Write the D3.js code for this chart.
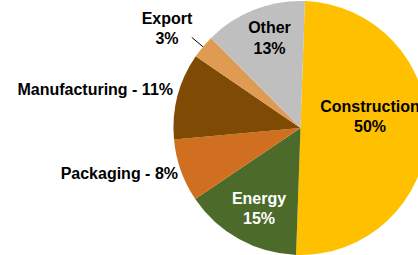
<!DOCTYPE html>
<html>
<head>
<meta charset="utf-8">
<script src="https://cdn.jsdelivr.net/npm/d3@7"></script>
<style>
  body { margin: 0; background: #fff; }
  svg text { font-family: "Liberation Sans", Arial, sans-serif; font-weight: bold; }
</style>
</head>
<body>
<div id="chart"></div>
<script>
// data, clockwise from 12 o'clock
const categories = ["Construction", "Energy", "Packaging", "Manufacturing", "Export", "Other"];
const shares = [50, 15, 8, 11, 3, 13];
const colors = ["#FFC000", "#4C6B2B", "#CF6F1F", "#7F4A03", "#E09B52", "#BFBFBF"];

// label layout (Excel placed these by hand)
const labelLayout = {
  Construction:  { x: 370, y: 111.7, anchor: "middle", fill: "#000", inline: false },
  Energy:        { x: 259, y: 204,   anchor: "middle", fill: "#fff", inline: false },
  Packaging:     { x: 178, y: 179,   anchor: "end",    fill: "#000", inline: true },
  Manufacturing: { x: 173, y: 95,    anchor: "end",    fill: "#000", inline: true },
  Export:        { x: 167, y: 24,    anchor: "middle", fill: "#000", inline: false },
  Other:         { x: 269.5, y: 33.3, anchor: "middle", fill: "#000", inline: false }
};

const buildChart = () => {
  const width = 418, height = 255;
  const cx = 300.5, cy = 128, radius = 127;
  const fontSize = 16, lineGap = 20.3;

  const svg = d3.select("#chart")
    .append("svg")
    .attr("width", width)
    .attr("height", height);

  const rows = categories.map((c, i) => ({ name: c, value: shares[i], color: colors[i] }));

  const pie = d3.pie()
    .sort(null)
    .value(d => d.value)
    .startAngle(2 * Math.PI / 180)
    .endAngle(2 * Math.PI / 180 + 2 * Math.PI);

  const arc = d3.arc().innerRadius(0).outerRadius(radius);
  const arcs = pie(rows);

  const g = svg.append("g").attr("transform", `translate(${cx},${cy})`);

  g.selectAll("path")
    .data(arcs)
    .enter()
    .append("path")
    .attr("d", arc)
    .attr("fill", d => d.data.color);

  // leader line for the small Export slice
  const exp = arcs.find(d => d.data.name === "Export");
  const mid = (exp.startAngle + exp.endAngle) / 2;
  const pt = r => [r * Math.sin(mid), -r * Math.cos(mid)];
  const p0 = pt(radius), p1 = pt(radius + 14.5);
  g.append("line")
    .attr("x1", p0[0]).attr("y1", p0[1])
    .attr("x2", p1[0]).attr("y2", p1[1])
    .attr("stroke", "#000")
    .attr("stroke-width", 1);

  // labels
  arcs.forEach(d => {
    const L = labelLayout[d.data.name];
    const t = svg.append("text")
      .attr("x", L.x)
      .attr("y", L.y)
      .attr("text-anchor", L.anchor)
      .attr("fill", L.fill)
      .attr("font-size", fontSize + "px");
    if (L.inline) {
      t.text(`${d.data.name} - ${d.data.value}%`);
    } else {
      t.append("tspan").attr("x", L.x).text(d.data.name);
      t.append("tspan").attr("x", L.x).attr("dy", lineGap).text(d.data.value + "%");
    }
  });
};

document.addEventListener("DOMContentLoaded", buildChart);
</script>
</body>
</html>
